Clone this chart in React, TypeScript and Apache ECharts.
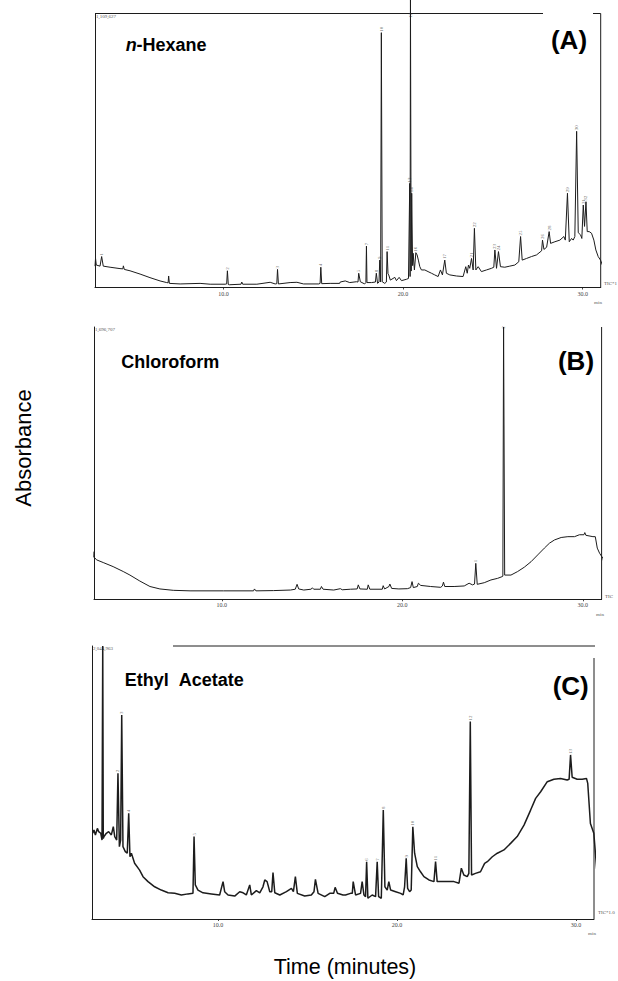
import React, { useEffect, useRef } from "react";
import * as echarts from "echarts";

// ---- Data (time in minutes, signal in % of panel height) ----
const hexaneTrace: [number, number][] = [
  [2.85, 7.8], [2.88, 10.6], [2.92, 8.2], [3.13, 7.8], [3.22, 11.3], [3.31, 7.8], [3.69, 7.4],
  [4.24, 6.9], [4.4, 6.8], [4.43, 7.9], [4.48, 6.6], [4.8, 6.1], [5.36, 4.9], [5.91, 3.6],
  [6.47, 2.4], [6.84, 1.8], [6.92, 1.7], [6.95, 4.2], [6.99, 1.5], [7.59, 1.3], [8.7, 1.5],
  [9.26, 1.2], [10.09, 1.2], [10.18, 1.3], [10.22, 6.1], [10.27, 1.1], [10.33, 1.0], [10.98, 1.2],
  [11.02, 2.0], [11.07, 1.2], [11.86, 1.2], [12.6, 1.9], [12.88, 1.3], [12.97, 1.4], [13.01, 6.6],
  [13.06, 1.3], [13.71, 1.8], [14.09, 1.9], [14.46, 1.3], [15.31, 1.3], [15.38, 1.5], [15.42, 7.4],
  [15.47, 1.4], [15.94, 1.5], [16.47, 1.5], [16.5, 2.0], [16.78, 2.4], [17.03, 1.8], [17.4, 2.1],
  [17.49, 2.0], [17.53, 5.2], [17.62, 2.1], [17.86, 1.3], [17.93, 1.8], [17.96, 15.1], [17.99, 1.8],
  [18.24, 1.8], [18.46, 2.0], [18.51, 5.2], [18.58, 1.5], [18.66, 2.0], [18.7, 10.0], [18.75, 2.0],
  [18.79, 93], [18.84, 2.1], [18.98, 1.5], [19.07, 2.0], [19.11, 13.1], [19.16, 5.0], [19.2, 4.6],
  [19.29, 2.7], [19.54, 3.7], [19.63, 2.5], [19.78, 3.7], [19.91, 2.5], [20.19, 3.0], [20.3, 3.3],
  [20.37, 38.0], [20.39, 4.0], [20.41, 105], [20.45, 6.0], [20.48, 34.4], [20.53, 8.0], [20.56, 12.5],
  [20.63, 6.4], [20.71, 12.7], [20.78, 11.9], [20.85, 10.0], [20.93, 7.6], [21.02, 6.4], [21.21, 6.4],
  [21.39, 5.8], [21.58, 5.2], [21.76, 4.6], [21.95, 4.0], [22.08, 6.4], [22.19, 4.6], [22.32, 10.0],
  [22.41, 5.2], [22.6, 4.6], [22.97, 4.2], [23.34, 4.0], [23.49, 7.6], [23.57, 5.2], [23.64, 8.2],
  [23.71, 7.0], [23.81, 10.6], [23.9, 6.4], [23.97, 21.6], [24.05, 6.4], [24.18, 7.6], [24.36, 5.8],
  [24.64, 6.4], [24.92, 7.0], [25.05, 7.4], [25.11, 13.7], [25.2, 7.0], [25.31, 13.1], [25.42, 7.6],
  [25.66, 7.4], [25.94, 7.8], [26.22, 8.2], [26.44, 9.4], [26.54, 18.6], [26.63, 10.0], [26.87, 10.6],
  [27.15, 11.3], [27.43, 11.9], [27.71, 13.4], [27.76, 17.3], [27.84, 13.9], [27.99, 14.7], [28.13, 20.4],
  [28.21, 16.1], [28.45, 16.7], [28.73, 17.3], [28.95, 18.6], [29.03, 17.3], [29.15, 34.4], [29.25, 16.7],
  [29.38, 17.9], [29.47, 17.3], [29.56, 18.6], [29.66, 57], [29.75, 20.0], [29.88, 19.2], [29.95, 17.9],
  [30.03, 30.1], [30.1, 22.3], [30.18, 31.3], [30.25, 20.4], [30.36, 20.4], [30.49, 19.8], [30.62, 17.3],
  [30.73, 13.7], [30.86, 11.3], [30.99, 10.0], [31.23, 5.8], [31.45, 2.5],
];

const chloroformTrace: [number, number][] = [
  [2.91, 15.4], [2.93, 17.5], [2.94, 15.4], [3.06, 14.5], [3.43, 13.5], [3.98, 12.0], [4.54, 10.2],
  [4.91, 8.9], [5.46, 6.7], [6.02, 4.7], [6.57, 3.8], [7.31, 3.3], [8.24, 3.1], [10.09, 3.1],
  [11.76, 3.1], [11.81, 3.8], [11.89, 3.1], [12.87, 3.2], [13.8, 3.4], [14.07, 3.7], [14.17, 5.5],
  [14.26, 3.8], [14.54, 3.4], [14.94, 3.7], [15.02, 4.2], [15.09, 3.7], [15.46, 3.7], [15.52, 4.7],
  [15.61, 3.7], [16.2, 3.4], [16.57, 3.9], [16.67, 3.5], [17.13, 3.7], [17.5, 3.8], [17.56, 5.3],
  [17.65, 3.8], [18.06, 3.7], [18.11, 5.3], [18.2, 3.7], [18.89, 3.7], [18.94, 5.0], [19.02, 3.8],
  [19.26, 4.7], [19.31, 5.6], [19.41, 4.0], [19.81, 3.8], [20.28, 3.9], [20.46, 4.3], [20.54, 6.5],
  [20.61, 4.3], [20.83, 4.7], [20.89, 5.9], [21.02, 5.1], [21.57, 4.7], [22.13, 4.4], [22.22, 4.9],
  [22.28, 6.3], [22.35, 4.7], [22.87, 4.7], [23.43, 4.9], [23.7, 5.9], [23.89, 5.3], [24.0, 5.6],
  [24.07, 13.2], [24.15, 5.5], [24.54, 6.1], [24.91, 7.1], [25.28, 7.7], [25.52, 8.3], [25.57, 8.5],
  [25.61, 100], [25.67, 8.9], [26.02, 8.9], [26.39, 10.2], [26.76, 11.8], [27.13, 13.8], [27.5, 16.3],
  [27.87, 18.8], [28.15, 20.6], [28.43, 21.8], [28.8, 22.7], [29.17, 23.0], [29.54, 23.0], [29.81, 23.7],
  [30.06, 23.7], [30.11, 24.5], [30.17, 23.5], [30.56, 23.0], [30.69, 23.0], [30.8, 18.8], [30.93, 16.9],
  [31.11, 15.1], [31.3, 9.6], [31.55, 3.5],
];

const ethylAcetateTrace: [number, number][] = [
  [3.0, 31.4], [3.07, 32.6], [3.15, 30.8], [3.26, 33.2], [3.33, 32.0], [3.45, 31.4], [3.52, 28.9],
  [3.56, 100], [3.59, 29.5], [3.63, 30.2], [3.76, 31.4], [3.89, 32.0], [4.04, 30.8], [4.15, 33.8],
  [4.23, 30.2], [4.34, 28.9], [4.41, 53.4], [4.49, 26.5], [4.56, 28.9], [4.62, 74.7], [4.69, 26.5],
  [4.82, 24.7], [4.93, 24.1], [5.01, 38.7], [5.08, 22.8], [5.16, 24.1], [5.34, 20.4], [5.62, 17.9],
  [5.81, 15.5], [6.09, 13.7], [6.46, 11.8], [6.83, 10.6], [7.21, 9.6], [7.58, 9.4], [7.95, 8.8],
  [8.32, 9.2], [8.6, 9.4], [8.66, 30.2], [8.73, 12.5], [8.88, 10.6], [9.16, 9.6], [9.63, 9.2],
  [10.09, 8.8], [10.28, 13.7], [10.37, 10.0], [10.56, 8.8], [10.93, 8.4], [11.21, 10.0], [11.4, 9.6],
  [11.58, 8.8], [11.77, 12.5], [11.86, 8.8], [12.14, 10.4], [12.33, 9.6], [12.51, 11.8], [12.61, 14.3],
  [12.74, 13.7], [12.89, 10.0], [13.0, 10.0], [13.07, 17.0], [13.17, 9.6], [13.45, 8.8], [13.82, 10.0],
  [14.1, 11.2], [14.21, 10.0], [14.32, 15.5], [14.43, 9.4], [14.84, 8.4], [15.21, 8.8], [15.36, 10.0],
  [15.44, 14.5], [15.59, 9.4], [15.96, 8.2], [16.24, 9.4], [16.46, 9.4], [16.54, 11.6], [16.67, 9.4],
  [16.98, 8.8], [17.12, 8.8], [17.4, 9.4], [17.5, 9.4], [17.55, 13.7], [17.68, 8.8], [17.96, 9.4],
  [18.05, 13.7], [18.15, 8.8], [18.24, 8.2], [18.3, 21.0], [18.37, 7.6], [18.61, 8.8], [18.8, 8.2],
  [18.89, 21.0], [18.97, 8.2], [19.12, 7.6], [19.23, 39.9], [19.32, 11.8], [19.45, 10.6], [19.54, 13.7],
  [19.64, 10.6], [19.92, 10.0], [20.2, 9.4], [20.34, 8.8], [20.42, 11.8], [20.51, 22.2], [20.59, 11.2],
  [20.7, 10.0], [20.79, 10.6], [20.88, 33.8], [20.98, 24.1], [21.13, 19.2], [21.31, 17.3], [21.5, 15.5],
  [21.78, 14.3], [22.06, 13.7], [22.15, 21.0], [22.24, 13.7], [22.62, 13.7], [23.18, 13.7], [23.46, 13.1],
  [23.59, 18.6], [23.73, 16.1], [23.92, 15.5], [24.01, 16.7], [24.09, 72.3], [24.16, 16.1], [24.38, 16.7],
  [24.66, 17.3], [24.89, 20.4], [25.04, 21.0], [25.32, 22.8], [25.6, 24.1], [25.97, 25.3], [26.34, 27.7],
  [26.71, 30.2], [27.09, 34.4], [27.46, 39.9], [27.74, 44.2], [28.02, 46.6], [28.39, 50.3], [28.76, 51.2],
  [29.13, 51.5], [29.5, 50.9], [29.61, 51.2], [29.69, 60.1], [29.78, 51.9], [30.06, 51.2], [30.34, 51.2],
  [30.58, 51.5], [30.65, 49.7], [30.8, 35.0], [30.99, 31.4], [31.17, 16.7], [31.36, 3.3],
];

// peak number labels: [time, height, label]
const hexanePeakLabels: [number, number, string][] = [
  [3.22, 11.3, "1"], [10.22, 6.1, "2"], [13.01, 6.6, "3"], [15.42, 7.4, "4"], [17.53, 5.2, "5"],
  [17.96, 15.1, "7"], [18.51, 5.2, "8"], [18.7, 10.0, "9"], [18.79, 93, "10"], [19.11, 13.1, "11"],
  [20.44, 98, "12"], [20.37, 38.0, "13"], [20.48, 34.4, "14"], [20.71, 12.7, "16"], [22.32, 10.0, "17"],
  [23.81, 10.6, "21"], [23.97, 21.6, "22"], [25.11, 13.7, "23"], [25.31, 13.1, "24"], [26.54, 18.6, "25"],
  [27.76, 17.3, "26"], [28.13, 20.4, "28"], [29.15, 34.4, "29"], [29.66, 57, "30"], [30.03, 30.1, "31"],
  [30.18, 31.3, "32"],
];
const chloroformPeakLabels: [number, number, string][] = [[24.07, 13.2, "1"], [25.61, 99, "2"]];
const ethylAcetatePeakLabels: [number, number, string][] = [
  [4.41, 53.4, "2"], [4.62, 74.7, "3"], [5.01, 38.7, "4"], [8.66, 30.2, "5"], [18.3, 21.0, "6"],
  [18.89, 21.0, "7"], [19.23, 39.9, "8"], [20.51, 22.2, "9"], [20.88, 33.8, "10"], [22.15, 21.0, "11"],
  [24.09, 72.3, "12"], [29.69, 60.1, "13"],
];

const tickValues = [10, 20, 30];
const solventNames = ["Chloroform", "Ethyl \u00a0Acetate"];
const panelLetters = ["(A)", "(B)", "(C)"];
const fullScaleLabels = ["1,109,627", "1,696,707", "2,044,963"];
const ticLabels = ["TIC*1", "TIC", "TIC*1.0"];
const axisTitleY = "Absorbance";
const axisTitleX = "Time (minutes)";

// ---- Layout (pixels) ----
const panels = [
  { left: 95, rightX: 600.7, top: 13.5, bottomY: 287.5, min: 2.85, max: 31.0 },
  { left: 94, rightX: 601.6, top: 327, bottomY: 599.3, min: 2.92, max: 31.04 },
  { left: 92, rightX: 594, top: 646, bottomY: 919, min: 2.96, max: 31.0 },
];
const traces = [hexaneTrace, chloroformTrace, ethylAcetateTrace];
const peakLabels = [hexanePeakLabels, chloroformPeakLabels, ethylAcetatePeakLabels];
const W = 618;
const H = 981;
const SANS = '"Liberation Sans", Arial, Helvetica, sans-serif';
const INK = "#1c1c1c";

export default function App() {
  const ref = useRef<HTMLDivElement>(null);

  useEffect(() => {
    if (!ref.current) return;
    const chart = echarts.init(ref.current, undefined, { renderer: "svg", width: W, height: H });

    const grid = panels.map((p) => ({
      left: p.left,
      width: p.rightX - p.left,
      top: p.top,
      height: p.bottomY - p.top,
      containLabel: false,
    }));

    const xAxis = panels.map((p, i) => ({
      type: "value",
      gridIndex: i,
      min: p.min,
      max: p.max,
      axisLine: { show: true, onZero: false, lineStyle: { color: INK, width: 1 } },
      axisTick: { show: true, customValues: tickValues, length: 2, lineStyle: { color: INK, width: 0.8 } },
      axisLabel: {
        show: true,
        customValues: tickValues,
        formatter: (v: number) => v.toFixed(1),
        fontSize: 6,
        color: "#444",
        margin: 3,
        fontFamily: '"Liberation Serif", serif',
      },
      splitLine: { show: false },
    }));

    const yAxis = panels.map((_, i) => ({
      type: "value",
      gridIndex: i,
      min: 0,
      max: 100,
      axisLine: { show: true, lineStyle: { color: INK, width: 1 } },
      axisTick: { show: false },
      axisLabel: { show: false },
      splitLine: { show: false },
    }));

    const lineSeries = traces.map((data, i) => ({
      type: "line",
      xAxisIndex: i,
      yAxisIndex: i,
      data,
      symbol: "none",
      showSymbol: false,
      clip: false,
      silent: true,
      lineStyle: { color: INK, width: i === 2 ? 1.5 : 1 },
    }));

    const labelSeries = peakLabels.map((list, i) => ({
      type: "scatter",
      xAxisIndex: i,
      yAxisIndex: i,
      data: list.map((p) => [p[0], p[1], p[2]]),
      symbolSize: 0,
      silent: true,
      clip: false,
      label: {
        show: true,
        position: "top",
        distance: 1,
        rotate: 90,
        align: "left",
        verticalAlign: "middle",
        fontSize: 5,
        color: "#444",
        fontFamily: '"Liberation Serif", serif',
        formatter: (params: any) => String(params.value[2]),
      },
    }));

    const line = (x1: number, y1: number, x2: number, y2: number) => ({
      type: "line",
      shape: { x1, y1, x2, y2 },
      style: { stroke: INK, lineWidth: 1 },
      silent: true,
    });
    const txt = (x: number, y: number, text: string, font: string, align = "left", fill = INK, extra: any = {}) => ({
      type: "text",
      x,
      y,
      ...extra,
      style: { text, font, fill, textAlign: align, textVerticalAlign: "middle" },
      silent: true,
    });

    const tiny = `5px "Liberation Serif", serif`;
    const bold18 = `bold 18px ${SANS}`;
    const bold26 = `bold 26px ${SANS}`;

    const graphic = [
      // frames
      line(panels[0].left, panels[0].top, 543, panels[0].top),
      line(593, panels[0].top, panels[0].rightX, panels[0].top),
      line(panels[0].rightX, panels[0].top, panels[0].rightX, panels[0].bottomY),
      line(panels[1].rightX, panels[1].top, panels[1].rightX, panels[1].bottomY),
      line(173, panels[2].top, 595, panels[2].top),
      line(panels[2].rightX, 658, panels[2].rightX, panels[2].bottomY),
      // full-scale labels
      txt(panels[0].left + 1, panels[0].top + 2.5, fullScaleLabels[0], tiny, "left", "#555"),
      txt(panels[1].left + 1, panels[1].top + 2.5, fullScaleLabels[1], tiny, "left", "#555"),
      txt(panels[2].left + 1, panels[2].top + 2.5, fullScaleLabels[2], tiny, "left", "#555"),
      // TIC labels
      txt(604, 283, ticLabels[0], tiny, "left", "#555"),
      txt(605, 596, ticLabels[1], tiny, "left", "#555"),
      txt(598, 912, ticLabels[2], tiny, "left", "#555"),
      // min labels
      txt(598, 302, "min", tiny, "center", "#555"),
      txt(600, 614, "min", tiny, "center", "#555"),
      txt(592, 933, "min", tiny, "center", "#555"),
      // panel titles
      txt(125.8, 44.8, "n", `italic bold 18px ${SANS}`, "left", "#000"),
      txt(136.5, 44.8, "-Hexane", bold18, "left", "#000"),
      txt(121.3, 362, solventNames[0], bold18, "left", "#000"),
      txt(124.8, 679.6, solventNames[1], bold18, "left", "#000"),
      txt(569, 40, panelLetters[0], bold26, "center", "#000"),
      txt(576, 361, panelLetters[1], bold26, "center", "#000"),
      txt(570.7, 686.4, panelLetters[2], bold26, "center", "#000"),
      // axis titles
      txt(23, 448, axisTitleY, `22px ${SANS}`, "center", "#000", { rotation: Math.PI / 2 }),
      txt(345, 967, axisTitleX, `21.5px ${SANS}`, "center", "#000"),
    ];

    chart.setOption({
      animation: false,
      backgroundColor: "#ffffff",
      grid,
      xAxis,
      yAxis,
      series: [...lineSeries, ...labelSeries],
      graphic,
    } as any);

    return () => chart.dispose();
  }, []);

  return (
    <div
      ref={ref}
      style={{ position: "absolute", left: 0, top: 0, width: W, height: H, background: "#fff" }}
    />
  );
}
